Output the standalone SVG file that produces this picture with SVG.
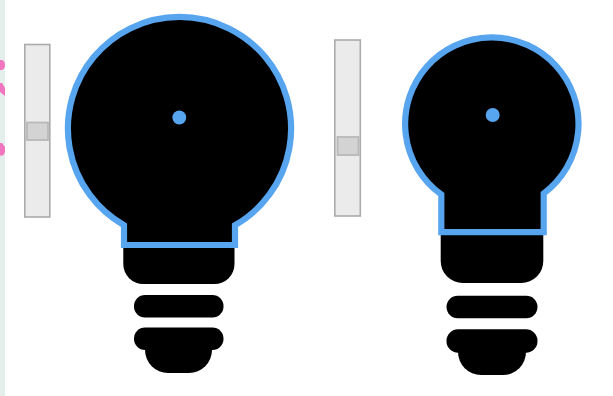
<svg xmlns="http://www.w3.org/2000/svg" width="613" height="396" viewBox="0 0 613 396">
<style>
.track{fill:#ebebeb;stroke:#ababab;stroke-width:1.6}
.thumb{fill:#d3d3d3;stroke:#b8b8b8;stroke-width:1.8}
.glass{fill:#000;stroke:#58a5ef;stroke-width:6.2}
.dot{fill:#58a5ef}
.pink{fill:#f074c0}
</style>
<rect width="613" height="396" fill="#fff"/>
<g id="edge">
<rect x="0" y="0" width="5" height="396" fill="#e4efeb"/>
<path class="pink" d="M0 60 H2 Q5 61 5 65 Q5 69 2 70 H0Z"/>
<path class="pink" d="M0 83 H2 L5 88 V96 L0 92Z"/>
<path class="pink" d="M0 143 H2 L5 147 V152 L3 155.500 H0Z"/>
</g>
<g id="slider-left">
<rect class="track" x="24.800" y="44.500" width="25" height="172.500"/>
<rect class="thumb" x="27" y="122.500" width="21" height="17.500"/>
</g>
<g id="bulb-left">
<path d="M123.300 240 H234.500 V264 A20 20 0 0 1 214.500 284 H143.300 A20 20 0 0 1 123.300 264Z" fill="#000"/>
<rect x="134" y="295" width="89.500" height="22.500" rx="11" fill="#000"/>
<rect x="134" y="327.500" width="89.500" height="22.500" rx="11" fill="#000"/>
<path d="M145 345 H212 V350 A23 23 0 0 1 189 373 H168 A23 23 0 0 1 145 350Z" fill="#000"/>
<path class="glass" d="M124 225.300 A111.600 111.600 0 1 1 235 225.300 V245 H124Z"/>
<circle class="dot" cx="179.300" cy="117.500" r="6.900"/>
</g>
<g id="slider-right">
<rect class="track" x="334.800" y="40" width="25.500" height="176"/>
<rect class="thumb" x="337.500" y="137" width="21" height="18"/>
</g>
<g id="bulb-right">
<path d="M440.700 228 H543.300 V261 A22 22 0 0 1 521.300 283 H462.700 A22 22 0 0 1 440.700 261Z" fill="#000"/>
<rect x="446.500" y="295.700" width="91" height="22.600" rx="11.300" fill="#000"/>
<rect x="446.500" y="329.300" width="91" height="23.400" rx="11.500" fill="#000"/>
<path d="M458 345 H526 V352 A23 23 0 0 1 503 375 H481 A23 23 0 0 1 458 352Z" fill="#000"/>
<path class="glass" d="M441.300 194.500 A86.700 86.700 0 1 1 543.700 193.500 V232.200 H441.300Z"/>
<circle class="dot" cx="492.700" cy="115" r="7"/>
</g>
<g id="connectors"></g>
</svg>
